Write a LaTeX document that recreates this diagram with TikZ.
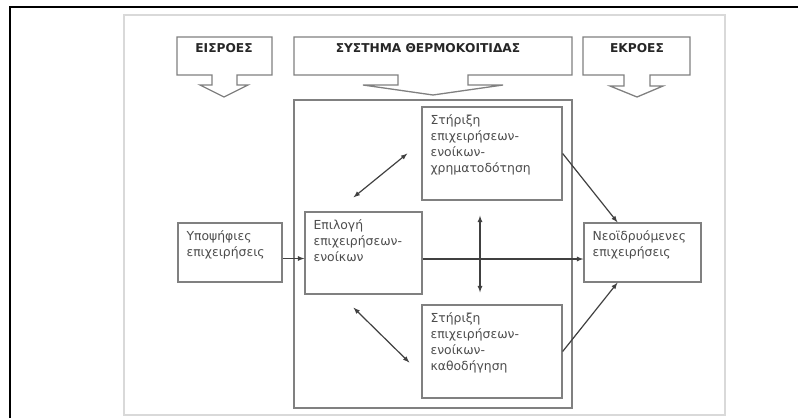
\documentclass[tikz,border=0pt]{standalone}
\usepackage{fontspec}
\setmainfont{DejaVu Sans}
\usetikzlibrary{arrows}

\begin{document}
\begin{tikzpicture}[x=1pt,y=-1pt,>=latex,
        box/.style={draw=black!50,line width=1.3pt},
        txt/.style={anchor=north west,align=left,text=black!70,inner xsep=9pt,inner ysep=8pt,font=\fontsize{12.4}{16}\selectfont},
        head/.style={text=black!85,font=\fontsize{12.2}{14}\selectfont\bfseries},
        arr/.style={draw=black!75,line width=1.2pt}]
        \useasboundingbox (0,0) rectangle (798,418);
        \draw[line width=2pt] (10,418) -- (10,7) -- (798,7);
        \draw[black!15,line width=1.5pt] (124,15) rectangle (725,415);

        % callouts on top
        \draw[box] (177,37) -- (272,37) -- (272,75) -- (237,75) -- (237,85) -- (248,85) -- (224,97)
            -- (200,85) -- (212,85) -- (212,75) -- (177,75) -- cycle;
        \draw[box] (294,37) -- (572,37) -- (572,75) -- (468,75) -- (468,85) -- (503,85) -- (433,95)
            -- (363,85) -- (398,85) -- (398,75) -- (294,75) -- cycle;
        \draw[box] (583,37) -- (690,37) -- (690,75) -- (650,75) -- (650,86) -- (663,86) -- (637,97)
            -- (610,86) -- (624,86) -- (624,75) -- (583,75) -- cycle;
        \node[head] (inputs) at (224,48) {ΕΙΣΡΟΕΣ};
        \node[head] (system) at (428,48) {ΣΥΣΤΗΜΑ ΘΕΡΜΟΚΟΙΤΙΔΑΣ};
        \node[head] (outputs) at (637,48) {ΕΚΡΟΕΣ};

        % boxes
        \node[box,minimum width=278pt,minimum height=308pt] (incubator) at (433,254) {};
        \node[box,minimum width=104pt,minimum height=59pt] (cand) at (230,252.5) {};
        \node[box,minimum width=117pt,minimum height=82pt] (select) at (363.5,253) {};
        \node[box,minimum width=140pt,minimum height=93pt] (fund) at (492,153.5) {};
        \node[box,minimum width=140pt,minimum height=93pt] (guide) at (492,351.5) {};
        \node[box,minimum width=117pt,minimum height=59pt] (new) at (642.5,252.5) {};

        \node[txt] (candtxt) at (cand.north west) {Υποψήφιες\\επιχειρήσεις};
        \node[txt] (selecttxt) at (select.north west) {Επιλογή\\επιχειρήσεων-\\ενοίκων};
        \node[txt] (fundtxt) at (fund.north west) {Στήριξη\\επιχειρήσεων-\\ενοίκων-\\χρηματοδότηση};
        \node[txt] (guidetxt) at (guide.north west) {Στήριξη\\επιχειρήσεων-\\ενοίκων-\\καθοδήγηση};
        \node[txt] (newtxt) at (new.north west) {Νεοϊδρυόμενες\\επιχειρήσεις};

        % arrows
        \draw[arr,->] ([yshift=-6pt]cand.east) -- ([yshift=-6pt]cand.east -| select.west);
        \draw[arr,->] ([yshift=-6pt]select.east) -- ([yshift=-6pt]select.east -| new.west);
        \draw[arr,<->] ([xshift=-10pt,yshift=14pt]select.north) -- ([xshift=-14pt]fund.west);
        \draw[arr,<->] ([xshift=-10pt,yshift=-13pt]select.south) -- ([xshift=-12pt,yshift=-11pt]guide.west);
        \draw[arr,<->] ([xshift=-12pt,yshift=-15pt]fund.south) -- ([xshift=-12pt,yshift=12pt]guide.north);
        \draw[arr,->] (fund.east) -- ([xshift=-25pt]new.north);
        \draw[arr,->] (guide.east) -- ([xshift=-25pt]new.south);
    \end{tikzpicture}
\end{document}
